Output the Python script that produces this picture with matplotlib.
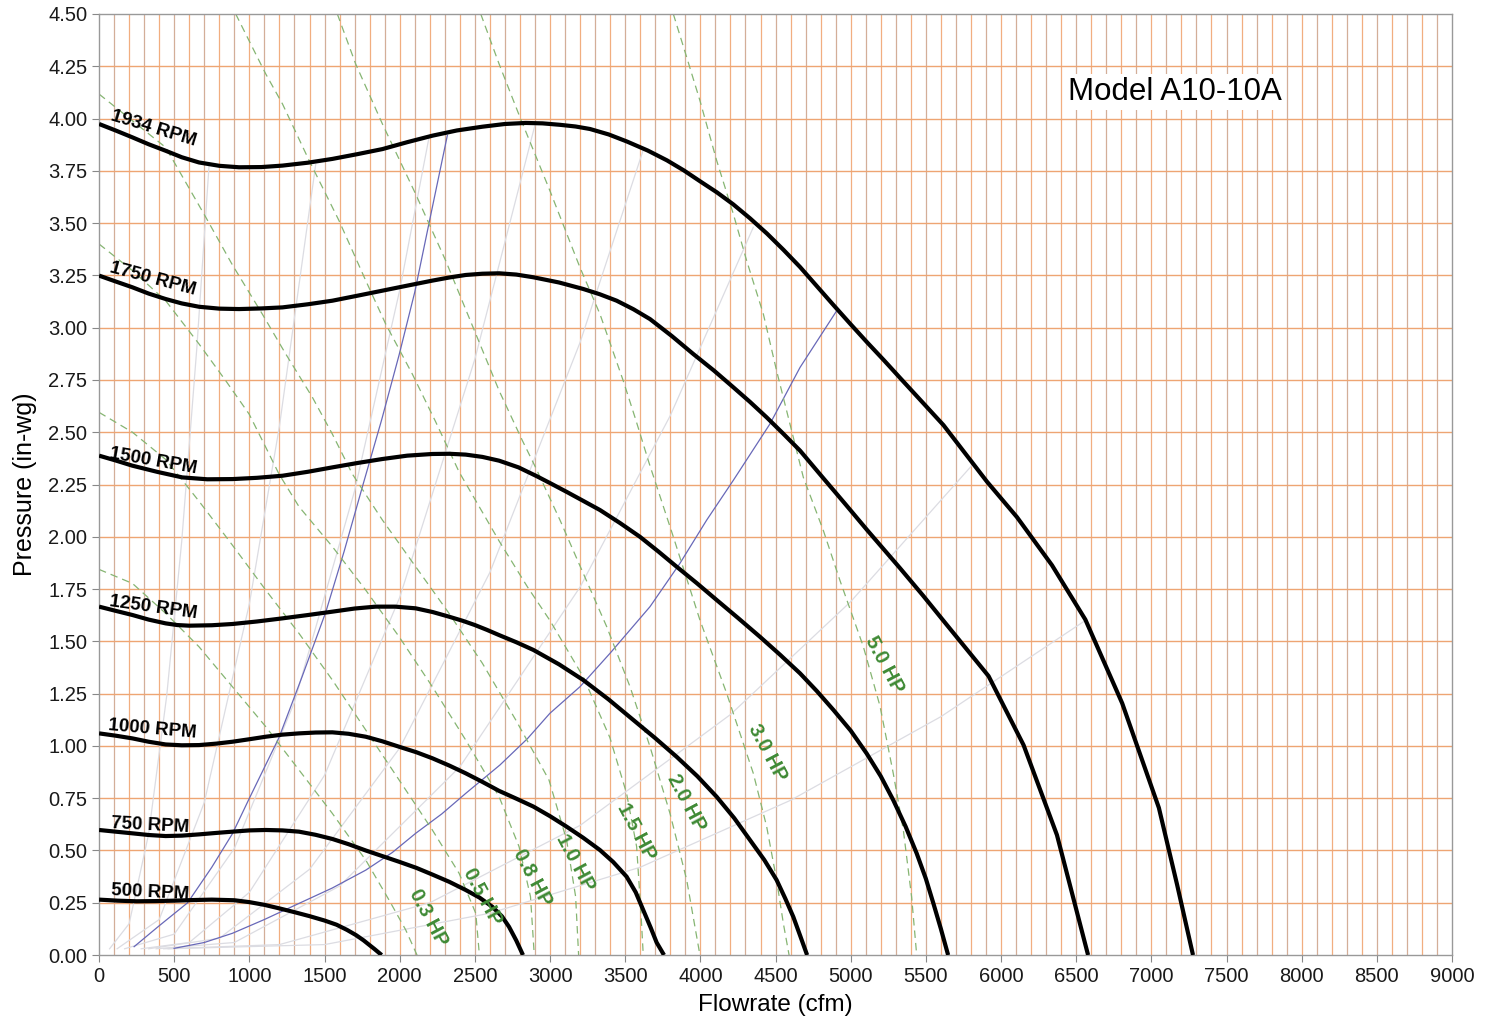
import matplotlib.pyplot as plt
import numpy as np

plt.rcParams['font.family'] = ['Liberation Sans', 'DejaVu Sans']

# fan curves (cfm, in-wg)
rpm_names = ["500 RPM", "750 RPM", "1000 RPM", "1250 RPM", "1500 RPM", "1750 RPM", "1934 RPM"]
rpm_x = [
    [0, 125, 250, 375, 500, 625, 750, 900, 1000, 1100, 1200, 1300, 1400, 1500, 1580, 1650,
     1710, 1760, 1800, 1830, 1860, 1880],
    [0, 110, 222, 330, 443, 550, 665, 780, 887, 1000, 1109, 1220, 1330, 1440, 1552, 1660,
     1774, 1885, 1996, 2110, 2217, 2330, 2439, 2530, 2616, 2680, 2727, 2775, 2820],
    [0, 110, 222, 330, 443, 550, 665, 780, 887, 1000, 1109, 1220, 1330, 1440, 1552, 1660,
     1774, 1885, 1996, 2110, 2217, 2330, 2439, 2550, 2661, 2775, 2889, 3000, 3110, 3220,
     3332, 3420, 3509, 3570, 3620, 3670, 3709, 3758],
    [0, 110, 222, 330, 443, 520, 599, 750, 887, 1050, 1220, 1390, 1552, 1700, 1840, 1970,
     2106, 2220, 2328, 2420, 2500, 2580, 2661, 2775, 2889, 3060, 3221, 3390, 3554, 3700,
     3842, 3980, 4108, 4225, 4330, 4425, 4507, 4565, 4618, 4665, 4710],
    [0, 110, 222, 390, 554, 720, 887, 1050, 1220, 1390, 1552, 1720, 1885, 2050, 2217, 2330,
     2439, 2550, 2661, 2790, 2911, 3010, 3110, 3220, 3332, 3465, 3598, 3720, 3842, 3975,
     4108, 4250, 4396, 4530, 4663, 4775, 4885, 5000, 5106, 5200, 5283, 5365, 5439, 5500,
     5550, 5600, 5648],
    [0, 110, 222, 330, 443, 550, 665, 800, 931, 1080, 1220, 1390, 1552, 1720, 1885, 2050,
     2217, 2330, 2439, 2550, 2661, 2775, 2889, 3060, 3221, 3330, 3443, 3555, 3665, 3810,
     3953, 4090, 4219, 4330, 4441, 4550, 4663, 4818, 4960, 5106, 5220, 5328, 5480, 5638,
     5917, 6150, 6372, 6579],
    [0, 110, 222, 330, 443, 550, 665, 800, 931, 1080, 1220, 1390, 1552, 1720, 1885, 2050,
     2217, 2380, 2550, 2700, 2838, 2950, 3067, 3170, 3266, 3390, 3512, 3650, 3778, 3890,
     3998, 4110, 4218, 4330, 4443, 4553, 4663, 4773, 4883, 5000, 5109, 5220, 5328, 5617,
     5906, 6106, 6339, 6561, 6806, 7050, 7172, 7277],
]
rpm_y = [
    [0.265, 0.26, 0.257, 0.258, 0.26, 0.263, 0.265, 0.262, 0.253, 0.24, 0.223, 0.205, 0.186,
     0.165, 0.145, 0.12, 0.095, 0.07, 0.047, 0.03, 0.012, 0.0],
    [0.598, 0.59, 0.582, 0.574, 0.569, 0.571, 0.577, 0.584, 0.59, 0.596, 0.598, 0.596, 0.59,
     0.575, 0.555, 0.53, 0.5, 0.473, 0.446, 0.417, 0.385, 0.35, 0.311, 0.275, 0.231, 0.185,
     0.135, 0.07, 0.0],
    [1.06, 1.049, 1.036, 1.02, 1.007, 1.003, 1.004, 1.011, 1.02, 1.032, 1.044, 1.054, 1.06,
     1.064, 1.065, 1.058, 1.044, 1.022, 0.996, 0.97, 0.941, 0.906, 0.869, 0.828, 0.785, 0.748,
     0.71, 0.664, 0.614, 0.561, 0.502, 0.445, 0.375, 0.3, 0.215, 0.13, 0.06, 0.0],
    [1.666, 1.646, 1.626, 1.604, 1.586, 1.578, 1.575, 1.577, 1.583, 1.595, 1.61, 1.626, 1.642,
     1.657, 1.666, 1.666, 1.658, 1.64, 1.618, 1.598, 1.578, 1.555, 1.53, 1.496, 1.459, 1.39,
     1.315, 1.222, 1.124, 1.037, 0.948, 0.855, 0.757, 0.655, 0.55, 0.455, 0.359, 0.27, 0.183,
     0.09, 0.0],
    [2.388, 2.365, 2.34, 2.31, 2.284, 2.275, 2.276, 2.282, 2.292, 2.311, 2.332, 2.353, 2.372,
     2.388, 2.396, 2.397, 2.393, 2.382, 2.364, 2.332, 2.29, 2.253, 2.215, 2.172, 2.128, 2.066,
     2.0, 1.93, 1.857, 1.779, 1.698, 1.612, 1.522, 1.436, 1.347, 1.262, 1.172, 1.073, 0.964,
     0.855, 0.741, 0.615, 0.486, 0.365, 0.247, 0.125, 0.0],
    [3.249, 3.221, 3.193, 3.163, 3.137, 3.116, 3.10, 3.091, 3.089, 3.092, 3.097, 3.112, 3.129,
     3.153, 3.177, 3.201, 3.225, 3.24, 3.252, 3.258, 3.26, 3.254, 3.241, 3.216, 3.185, 3.16,
     3.129, 3.088, 3.041, 2.96, 2.874, 2.795, 2.715, 2.645, 2.571, 2.494, 2.412, 2.28, 2.16,
     2.035, 1.94, 1.85, 1.72, 1.58, 1.334, 1.004, 0.574, 0.0],
    [3.974, 3.943, 3.91, 3.877, 3.846, 3.815, 3.79, 3.774, 3.767, 3.768, 3.775, 3.789, 3.807,
     3.83, 3.854, 3.887, 3.918, 3.943, 3.961, 3.974, 3.979, 3.977, 3.97, 3.962, 3.95, 3.924,
     3.89, 3.847, 3.80, 3.752, 3.70, 3.647, 3.59, 3.523, 3.45, 3.372, 3.29, 3.20, 3.11, 3.016,
     2.93, 2.845, 2.76, 2.534, 2.264, 2.094, 1.864, 1.604, 1.204, 0.704, 0.334, 0.0],
]
rpm_label_pos = [(340, 0.30), (340, 0.62), (352, 1.08), (360, 1.66), (360, 2.36), (360, 3.23), (360, 3.95)]
rpm_label_rot = [-3, -3, -5, -8, -10, -15, -17]

# horsepower curves
hp_names = ["0.3 HP", "0.5 HP", "0.8 HP", "1.0 HP", "1.5 HP", "2.0 HP", "3.0 HP", "5.0 HP"]
hp_x = [
    [0, 222, 443, 665, 887, 1109, 1330, 1552, 1774, 1929, 2040, 2115],
    [0, 222, 443, 665, 887, 1109, 1330, 1552, 1774, 1996, 2217, 2395, 2506, 2530],
    [0, 222, 443, 665, 843, 998, 1109, 1197, 1330, 1552, 1774, 1996, 2217, 2439, 2661, 2794,
     2870, 2895],
    [0, 443, 710, 887, 1086, 1242, 1419, 1552, 1685, 1885, 2106, 2328, 2550, 2772, 2993, 3110,
     3170, 3190],
    [909, 998, 1109, 1220, 1397, 1596, 1774, 1907, 2084, 2239, 2395, 2661, 2850, 2999, 3221,
     3398, 3509, 3576, 3605, 3620],
    [1585, 1707, 1885, 2106, 2306, 2506, 2661, 2816, 2905, 3066, 3221, 3377, 3532, 3665, 3798,
     3909, 3997],
    [2539, 2661, 2800, 2999, 3199, 3332, 3487, 3570, 3660, 3820, 3997, 4175, 4352, 4441, 4507,
     4552, 4590],
    [3820, 3909, 3997, 4108, 4219, 4308, 4419, 4507, 4596, 4685, 4818, 4929, 5084, 5195, 5283,
     5350, 5405, 5439],
]
hp_y = [
    [1.844, 1.777, 1.634, 1.474, 1.283, 1.092, 0.885, 0.677, 0.454, 0.263, 0.12, 0.0],
    [2.595, 2.5, 2.37, 2.17, 1.96, 1.745, 1.538, 1.315, 1.076, 0.837, 0.598, 0.391, 0.199, 0.0],
    [3.4, 3.273, 3.129, 2.922, 2.746, 2.587, 2.428, 2.30, 2.144, 1.953, 1.745, 1.522, 1.283,
     1.028, 0.757, 0.518, 0.279, 0.0],
    [4.117, 3.862, 3.528, 3.30, 3.065, 2.874, 2.667, 2.491, 2.30, 2.08, 1.857, 1.634, 1.395,
     1.124, 0.837, 0.55, 0.28, 0.0],
    [4.5, 4.372, 4.213, 4.07, 3.80, 3.512, 3.225, 3.017, 2.778, 2.55, 2.31, 1.98, 1.76, 1.60,
     1.33, 1.04, 0.773, 0.518, 0.199, 0.0],
    [4.5, 4.261, 3.974, 3.639, 3.32, 2.97, 2.699, 2.46, 2.33, 2.08, 1.825, 1.57, 1.283, 0.996,
     0.677, 0.359, 0.0],
    [4.5, 4.261, 4.006, 3.655, 3.288, 3.065, 2.746, 2.56, 2.35, 2.0, 1.602, 1.251, 0.869,
     0.614, 0.359, 0.151, 0.0],
    [4.5, 4.293, 4.086, 3.80, 3.544, 3.32, 3.065, 2.794, 2.539, 2.284, 2.03, 1.79, 1.475, 1.19,
     0.869, 0.598, 0.279, 0.0],
]
hp_label_pos = [(2189, 0.18), (2548, 0.28), (2880, 0.37), (3167, 0.44), (3572, 0.59),
                (3905, 0.73), (4444, 0.97), (5222, 1.39)]

# system curves (blue)
sys_blue_x = [
    [233, 400, 589, 750, 887, 1000, 1197, 1350, 1508, 1630, 1760, 1880, 1996, 2100, 2195, 2317],
    [499, 700, 887, 1100, 1330, 1550, 1774, 1950, 2106, 2280, 2439, 2667, 2850, 2999, 3199,
     3399, 3665, 3864, 4042, 4219, 4463, 4663, 4906],
]
sys_blue_y = [
    [0.04, 0.14, 0.25, 0.42, 0.58, 0.75, 1.04, 1.33, 1.64, 1.93, 2.26, 2.56, 2.87, 3.17, 3.50,
     3.92],
    [0.032, 0.06, 0.104, 0.17, 0.247, 0.32, 0.406, 0.49, 0.582, 0.675, 0.773, 0.909, 1.035,
     1.156, 1.283, 1.443, 1.666, 1.873, 2.08, 2.27, 2.54, 2.81, 3.08],
]

# system curves (faint grey)
sys_grey_x = [
    [70, 200, 330, 450, 550, 650, 732],
    [120, 400, 700, 1000, 1200, 1441],
    [170, 500, 900, 1300, 1700, 2000, 2195],
    [280, 600, 1000, 1500, 2000, 2500, 2900],
    [330, 800, 1400, 2000, 2600, 3200, 3620],
    [380, 900, 1600, 2400, 3200, 3800, 4352],
    [430, 1200, 2200, 3200, 4200, 5000, 5817],
    [460, 1500, 2600, 3600, 4600, 5600, 6561],
]
sys_grey_y = [
    [0.03, 0.15, 0.58, 1.24, 1.98, 2.9, 3.78],
    [0.03, 0.17, 0.73, 1.68, 2.53, 3.78],
    [0.03, 0.10, 0.51, 1.21, 2.22, 3.18, 3.91],
    [0.03, 0.06, 0.30, 0.86, 1.71, 2.85, 3.97],
    [0.03, 0.08, 0.41, 0.99, 1.83, 2.93, 3.85],
    [0.03, 0.06, 0.33, 0.90, 1.76, 2.58, 3.48],
    [0.03, 0.05, 0.25, 0.62, 1.15, 1.69, 2.35],
    [0.03, 0.05, 0.20, 0.42, 0.74, 1.14, 1.60],
]

fig = plt.figure(figsize=(14.92, 10.21), dpi=100)
ax = fig.add_axes([0.0664, 0.0646, 0.9068, 0.9217])
ax.set_xlim(0, 9000)
ax.set_ylim(0, 4.5)

# grid: every 100 cfm, every 0.25 in-wg
for i, gx in enumerate(np.arange(100, 9000, 100)):
    ax.axvline(gx, color='#f1ae80' if i % 2 else '#d3ae98', lw=0.9, zorder=0)
for gy in np.arange(0.25, 4.5, 0.25):
    ax.axhline(gy, color='#eea573', lw=1.0, zorder=0)

for xs, ys in zip(sys_grey_x, sys_grey_y):
    ax.plot(xs, ys, color='#dcdce2', lw=0.9, zorder=1)
for xs, ys in zip(sys_blue_x, sys_blue_y):
    ax.plot(xs, ys, color='#6868b8', lw=0.9, zorder=2)

for xs, ys in zip(hp_x, hp_y):
    ax.plot(xs, ys, color='#86b572', lw=0.9, dashes=(6, 4), zorder=2)
for name, (lx, ly) in zip(hp_names, hp_label_pos):
    ax.text(lx, ly, name, color='#3f8a35', fontsize=14.5, fontweight='bold',
            rotation=-62, ha='center', va='center', zorder=4)

for xs, ys in zip(rpm_x, rpm_y):
    ax.plot(xs, ys, color='black', lw=3.0, solid_capstyle='butt', solid_joinstyle='round', zorder=3)
for name, (lx, ly), rot in zip(rpm_names, rpm_label_pos, rpm_label_rot):
    ax.text(lx, ly, name, color='black', fontsize=13.5, fontweight='bold',
            rotation=rot, ha='center', va='center', zorder=4)

ax.text(7158, 4.127, "Model A10-10A", fontsize=22.5, ha='center', va='center', zorder=5,
        bbox=dict(facecolor='white', edgecolor='none', pad=2))

ax.set_xticks(np.arange(0, 9001, 500))
ax.set_yticks(np.arange(0, 4.51, 0.25))
ax.set_yticklabels([f"{v:.2f}" for v in np.arange(0, 4.51, 0.25)])
ax.tick_params(direction='out', length=5, color='#888888', labelsize=14.5, labelcolor='#1a1a1a')
for s in ax.spines.values():
    s.set_color('#999999')
    s.set_linewidth(1.0)
ax.set_xlabel("Flowrate (cfm)", fontsize=17.5, labelpad=6)
ax.set_ylabel("Pressure (in-wg)", fontsize=18, labelpad=8)

fig.savefig("out.png", dpi=100)
